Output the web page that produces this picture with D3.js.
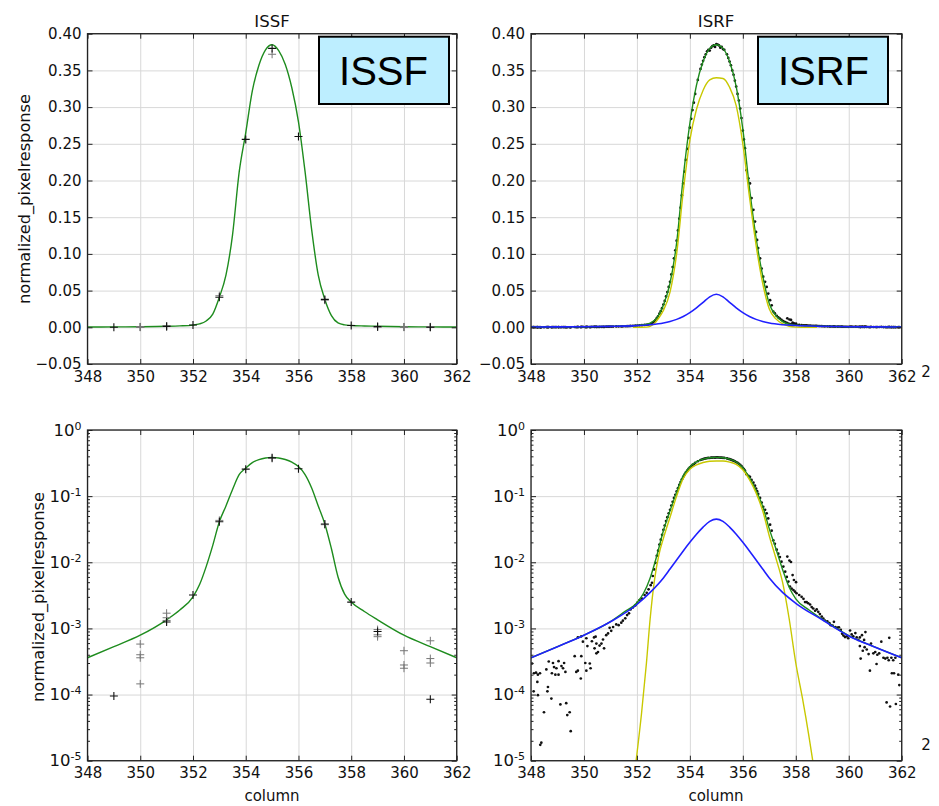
<!DOCTYPE html>
<html><head><meta charset="utf-8">
<script src="https://cdn.jsdelivr.net/npm/d3@7/dist/d3.min.js"></script>
<style>body{margin:0;background:#fff}svg{display:block}</style>
</head><body>
<svg id="c" width="939" height="806"></svg>
<script>
// ---------------- data ----------------
const xTicks = [348, 350, 352, 354, 356, 358, 360, 362];
const linTicks = [-0.05, 0.00, 0.05, 0.10, 0.15, 0.20, 0.25, 0.30, 0.35, 0.40];
const logTicks = [1e-5, 1e-4, 1e-3, 1e-2, 1e-1, 1];
const panelTitles = ["ISSF", "ISRF"];
const yLabel = "normalized_pixelresponse";
const xLabel = "column";

// ISSF samples (crosses)
const issfCols = [349, 351, 352, 353, 354, 355, 356, 357, 358, 359, 361];
const issfVals = [9.5e-5, 1.25e-3, 3.2e-3, 0.041, 0.256, 0.380, 0.260, 0.038, 2.5e-3, 9.0e-4, 8.5e-5];
const issfRepCols = [350, 350, 350, 350, 351, 351, 351, 353, 355, 357, 359, 359, 359, 360, 360, 360, 361, 361, 361];
const issfRepVals = [5.8e-4, 4.0e-4, 3.6e-4, 1.45e-4, 1.7e-3, 1.45e-3, 1.32e-3, 0.043, 0.372, 0.037, 9.6e-4, 8.0e-4, 7.5e-4, 4.6e-4, 2.8e-4, 2.5e-4, 6.5e-4, 3.5e-4, 3.0e-4];

// ISSF fitted curve (green)
const issfFitCols = [348, 349, 350, 351, 351.5, 352, 352.25, 352.5, 352.75, 353, 353.25, 353.5, 353.75, 354, 354.25, 354.5, 354.75, 355, 355.25, 355.5, 355.75, 356, 356.25, 356.5, 356.75, 357, 357.25, 357.5, 357.75, 358, 358.5, 359, 360, 361, 362];
const issfFitVals = [3.6e-4, 5.3e-4, 7.9e-4, 1.35e-3, 1.9e-3, 3.0e-3, 4.6e-3, 8.6e-3, 0.018, 0.041, 0.071, 0.126, 0.211, 0.265, 0.322, 0.357, 0.378, 0.385, 0.377, 0.358, 0.326, 0.280, 0.212, 0.133, 0.071, 0.038, 0.016, 6.0e-3, 3.3e-3, 2.5e-3, 1.8e-3, 1.35e-3, 7.9e-4, 5.3e-4, 3.6e-4];

// ISRF measured points (black dots)
const isrfCols = [
 348.04,348.11,348.19,348.26,348.34,348.10,348.24,348.26,348.49,348.35,348.39,348.58,348.67,348.83,348.87,348.79,348.92,349.04,349.04,348.96,
 348.62,348.64,348.77,349.11,349.33,349.37,349.46,349.50,349.21,349.25,349.30,349.15,349.65,349.71,349.77,349.88,349.90,349.77,349.90,349.96,
 350.09,350.13,350.22,350.05,350.09,350.25,350.30,350.38,350.44,350.47,350.40,350.47,350.53,350.59,350.66,350.76,350.72,350.84,350.91,350.97,
 351.03,351.10,351.22,351.31,351.41,351.47,351.56,351.63,351.70,351.76,351.85,351.94,352.02,352.10,352.19,352.29,352.37,352.44,352.52,352.57,
 352.60,352.65,352.70,352.75,352.80,352.85,352.90,352.95,353.00,353.05,353.10,353.15,353.20,353.25,353.30,353.35,353.40,353.45,353.50,353.55,
 353.60,353.65,353.70,353.75,353.80,353.85,353.90,353.95,354.00,354.05,354.10,354.15,354.20,354.30,354.40,354.45,354.50,354.55,354.60,354.65,
 354.70,354.75,354.80,354.85,354.90,354.95,355.00,355.05,355.10,355.15,355.20,355.25,355.30,355.40,355.45,355.50,355.55,355.60,355.65,355.70,
 355.75,355.80,355.85,355.90,355.95,356.00,356.04,356.08,356.14,356.21,356.27,356.33,356.40,356.46,356.50,356.54,356.58,356.65,356.71,356.77,
 356.84,356.90,356.96,357.03,357.09,357.15,357.21,357.28,357.34,357.40,357.46,357.53,357.60,357.66,357.72,357.78,357.84,357.91,357.97,
 357.68,357.76,357.82,357.88,357.93,358.01,
 358.03,358.13,358.22,358.29,358.35,358.41,358.47,358.54,358.60,358.66,358.73,358.79,358.85,358.91,358.98,359.04,359.10,359.19,359.27,359.32,
 359.39,359.44,359.49,359.57,359.63,359.70,359.75,359.80,359.86,359.92,359.98,360.05,360.11,360.17,360.25,360.30,360.36,360.42,360.42,360.50,
 360.58,360.63,360.45,360.53,360.60,360.68,360.75,360.80,360.84,360.93,361.00,361.05,361.08,361.15,361.23,361.31,361.38,361.46,361.53,361.51,
 361.61,361.68,361.76,361.63,361.71,361.87,361.91,361.43,361.56,361.78];
const isrfVals = [
 2.95e-4,2.1e-4,2.14e-4,2.0e-4,2.1e-4,1.12e-4,1.55e-4,9.8e-5,5.4e-5,1.74e-5,1.87e-5,2.4e-4,3.16e-4,3.0e-4,2.6e-4,2.1e-4,2.0e-4,2.0e-4,3.2e-4,2.5e-4,
 1.12e-4,1.3e-4,8.7e-5,7.1e-5,7.4e-5,4.9e-5,5.4e-5,2.8e-5,2.5e-4,3.0e-4,2.2e-4,2.7e-4,3.8e-4,2.2e-4,2.3e-4,1.75e-4,3.8e-4,7.3e-4,7.6e-4,6.3e-4,
 7.1e-4,5.4e-4,2.95e-4,3.0e-4,2.3e-4,2.5e-4,6.4e-4,7.3e-4,7.5e-4,5.9e-4,5.0e-4,4.2e-4,4.4e-4,5.5e-4,5.9e-4,5.0e-4,6.8e-4,7.9e-4,8.4e-4,1.02e-3,
 9.2e-4,1.05e-3,1.15e-3,1.12e-3,1.22e-3,1.31e-3,1.42e-3,1.59e-3,1.69e-3,1.94e-3,2.08e-3,2.23e-3,2.45e-3,2.68e-3,2.83e-3,3.2e-3,3.45e-3,3.9e-3,4.5e-3,4.9e-3,
 0.0062,0.0078,0.0098,0.0125,0.015,0.0185,0.022,0.026,0.031,0.036,0.042,0.048,0.055,0.062,0.072,0.082,0.094,0.105,0.118,0.132,
 0.148,0.163,0.180,0.196,0.212,0.228,0.243,0.258,0.272,0.284,0.296,0.306,0.318,0.337,0.352,0.358,0.363,0.368,0.372,0.376,
 0.378,0.377,0.381,0.383,0.384,0.382,0.386,0.385,0.384,0.381,0.382,0.379,0.378,0.372,0.367,0.362,0.357,0.350,0.344,0.336,
 0.328,0.318,0.309,0.298,0.285,0.268,0.256,0.244,0.214,0.203,0.196,0.176,0.160,0.144,0.130,0.119,0.108,0.094,0.080,0.069,
 0.062,0.055,0.046,0.037,0.030,0.0215,0.019,0.0155,0.0135,0.012,0.0102,0.0086,0.0072,0.006,0.0051,0.0043,0.0040,0.0038,0.0036,
 0.0122,0.0106,0.0101,0.0064,0.0054,0.0050,
 3.4e-3,3.2e-3,3.0e-3,2.8e-3,2.5e-3,2.5e-3,2.4e-3,2.3e-3,2.1e-3,2.0e-3,1.85e-3,1.94e-3,1.78e-3,1.65e-3,1.51e-3,1.41e-3,1.31e-3,1.28e-3,1.2e-3,1.12e-3,
 1.1e-3,1.26e-3,1.05e-3,1.03e-3,1.04e-3,9.5e-4,8.3e-4,7.8e-4,7.4e-4,7.6e-4,7.1e-4,9.3e-4,8.1e-4,7.6e-4,8.5e-4,7.3e-4,6.7e-4,5.4e-4,7.3e-4,7.9e-4,
 6.7e-4,8.8e-4,3.5e-4,4.6e-4,5.2e-4,4.8e-4,4.1e-4,2.3e-4,5.9e-4,4.2e-4,4.4e-4,2.9e-4,4.0e-4,4.2e-4,6.3e-4,3.6e-4,3.5e-4,3.6e-4,7.2e-4,3.3e-4,
 3.6e-4,3.3e-4,3.6e-4,2.1e-4,2.1e-4,2.0e-4,1.39e-4,7.6e-5,6.6e-5,7.2e-5];

// ISRF total fit (green)
const isrfFitCols = [348, 349, 350, 351, 351.5, 352, 352.25, 352.5, 352.75, 353, 353.25, 353.5, 353.75, 354, 354.25, 354.5, 354.75, 355, 355.25, 355.5, 355.75, 356, 356.25, 356.5, 356.75, 357, 357.25, 357.5, 357.75, 358, 358.5, 359, 360, 361, 362];
const isrfFitVals = [3.6e-4, 5.3e-4, 7.9e-4, 1.27e-3, 1.75e-3, 2.45e-3, 3.4e-3, 5.8e-3, 0.0125, 0.030, 0.060, 0.115, 0.205, 0.278, 0.330, 0.362, 0.380, 0.385, 0.380, 0.362, 0.328, 0.270, 0.190, 0.122, 0.070, 0.032, 0.016, 7.8e-3, 4.2e-3, 2.8e-3, 1.9e-3, 1.38e-3, 7.8e-4, 5.2e-4, 3.6e-4];

// ISRF core component (yellow)
const coreCols = [351.85, 351.97, 352.17, 352.36, 352.5, 352.67, 352.83, 353, 353.25, 353.5, 353.75, 354, 354.25, 354.5, 354.75, 355, 355.25, 355.5, 355.75, 356, 356.25, 356.5, 356.75, 357, 357.25, 357.5, 357.75, 358, 358.25, 358.5, 358.64, 358.8];
const coreVals = [4e-6, 1e-5, 5e-5, 3e-4, 1.4e-3, 5.6e-3, 0.013, 0.023, 0.048, 0.100, 0.185, 0.255, 0.297, 0.323, 0.337, 0.340, 0.339, 0.327, 0.302, 0.250, 0.178, 0.112, 0.060, 0.025, 0.0115, 5.0e-3, 1.4e-3, 3.0e-4, 8.9e-5, 2.3e-5, 1.0e-5, 4e-6];

// ISRF wing component (blue)
const wingCols = [348, 349, 350, 351, 352, 352.5, 353, 353.25, 353.5, 353.75, 354, 354.25, 354.5, 354.75, 355, 355.25, 355.5, 355.75, 356, 356.25, 356.5, 356.75, 357, 357.5, 358, 359, 360, 361, 362];
const wingVals = [3.6e-4, 5.3e-4, 7.9e-4, 1.26e-3, 2.3e-3, 3.5e-3, 5.8e-3, 7.9e-3, 0.0108, 0.0148, 0.0200, 0.0265, 0.0340, 0.0415, 0.045, 0.0415, 0.0340, 0.0265, 0.0200, 0.0148, 0.0108, 7.9e-3, 5.8e-3, 3.5e-3, 2.4e-3, 1.35e-3, 7.7e-4, 5.2e-4, 3.6e-4];

// ---------------- drawing ----------------
const svg = d3.select("#c");
const FONT = "DejaVu Sans, sans-serif";
const zip = (a, b) => a.map((v, i) => [v, b[i]]);

const panels = [
  {id: "a", x0: 87.5, x1: 456.7, y0: 33.7, y1: 364, log: false, kind: "issf"},
  {id: "b", x0: 531, x1: 901.7, y0: 33.7, y1: 364, log: false, kind: "isrf"},
  {id: "c", x0: 87.5, x1: 456.7, y0: 430, y1: 760.7, log: true, kind: "issf"},
  {id: "d", x0: 531, x1: 901.7, y0: 430, y1: 760.7, log: true, kind: "isrf"}
];

const defs = svg.append("defs");

panels.forEach(p => {
  const g = svg.append("g");
  const x = d3.scaleLinear().domain([348, 362]).range([p.x0, p.x1]);
  const y = p.log ? d3.scaleLog().domain([1e-5, 1]).range([p.y1, p.y0])
                  : d3.scaleLinear().domain([-0.05, 0.40]).range([p.y1, p.y0]);
  const yT = p.log ? logTicks : linTicks;
  const w = p.x1 - p.x0, h = p.y1 - p.y0;

  defs.append("clipPath").attr("id", "clip" + p.id)
    .append("rect").attr("x", p.x0).attr("y", p.y0).attr("width", w).attr("height", h);

  // grid
  const gx = g.append("g").attr("transform", `translate(0,${p.y1})`)
    .call(d3.axisBottom(x).tickValues(xTicks).tickSize(-h).tickFormat(""));
  const gy = g.append("g").attr("transform", `translate(${p.x0},0)`)
    .call(d3.axisLeft(y).tickValues(yT).tickSize(-w).tickFormat(""));
  [gx, gy].forEach(s => {
    s.select(".domain").remove();
    s.selectAll("line").attr("stroke", "#d8d8d8").attr("stroke-width", 1);
  });

  const plot = g.append("g").attr("clip-path", `url(#clip${p.id})`);
  const line = d3.line().x(d => x(d[0])).y(d => y(d[1])).curve(d3.curveMonotoneX);

  if (p.kind === "issf") {
    plot.append("path").datum(zip(issfFitCols, issfFitVals))
      .attr("d", line).attr("fill", "none").attr("stroke", "#1e8c1e").attr("stroke-width", 1.4);
    const cross = "M-4,0H4M0,-4V4";
    plot.selectAll(".rep").data(zip(issfRepCols, issfRepVals)).join("path")
      .attr("d", cross).attr("transform", d => `translate(${x(d[0])},${y(d[1])})`)
      .attr("stroke", "#777").attr("stroke-width", 1).attr("fill", "none");
    plot.selectAll(".pri").data(zip(issfCols, issfVals)).join("path")
      .attr("d", cross).attr("transform", d => `translate(${x(d[0])},${y(d[1])})`)
      .attr("stroke", "#111").attr("stroke-width", 1.1).attr("fill", "none");
  } else {
    plot.selectAll("circle").data(zip(isrfCols, isrfVals)).join("circle")
      .attr("cx", d => x(d[0])).attr("cy", d => y(d[1])).attr("r", 1.35).attr("fill", "#111");
    plot.append("path").datum(zip(isrfFitCols, isrfFitVals))
      .attr("d", line).attr("fill", "none").attr("stroke", "#1e8c1e").attr("stroke-width", 1.4);
    plot.append("path").datum(zip(coreCols, coreVals))
      .attr("d", line).attr("fill", "none").attr("stroke", "#c8c800").attr("stroke-width", 1.4);
    plot.append("path").datum(zip(wingCols, wingVals))
      .attr("d", line).attr("fill", "none").attr("stroke", "#2020ff").attr("stroke-width", 1.6);
  }

  // axes (ticks inside)
  const ax = g.append("g").attr("transform", `translate(0,${p.y1})`)
    .call(d3.axisBottom(x).tickValues(xTicks).tickSizeInner(-5).tickSizeOuter(0).tickPadding(7).tickFormat(d3.format("d")));
  const axT = g.append("g").attr("transform", `translate(0,${p.y0})`)
    .call(d3.axisTop(x).tickValues(xTicks).tickSizeInner(-5).tickSizeOuter(0).tickFormat(""));
  const ay = g.append("g").attr("transform", `translate(${p.x0},0)`)
    .call(d3.axisLeft(y).tickValues(yT).tickSizeInner(-5).tickSizeOuter(0).tickPadding(6)
      .tickFormat(p.log ? (() => "10") : d3.format(".2f")));
  const ayR = g.append("g").attr("transform", `translate(${p.x1},0)`)
    .call(d3.axisRight(y).tickValues(yT).tickSizeInner(-5).tickSizeOuter(0).tickFormat(""));
  const all = [ax, axT, ay, ayR];
  if (p.log) {
    const minor = y.ticks().filter(v => !logTicks.some(t => Math.abs(t - v) / t < 1e-6));
    all.push(g.append("g").attr("transform", `translate(${p.x0},0)`)
      .call(d3.axisLeft(y).tickValues(minor).tickSizeInner(-2.5).tickSizeOuter(0).tickFormat("")));
    all.push(g.append("g").attr("transform", `translate(${p.x1},0)`)
      .call(d3.axisRight(y).tickValues(minor).tickSizeInner(-2.5).tickSizeOuter(0).tickFormat("")));
    ay.selectAll(".tick text").each(function(d) {
      d3.select(this).append("tspan").attr("dy", "-0.55em").attr("font-size", "11px")
        .text(String(Math.round(Math.log10(d))));
    });
    ay.selectAll(".tick text").attr("font-size", 16.5);
  }
  all.forEach(s => {
    s.select(".domain").remove();
    s.selectAll("line").attr("stroke", "#222").attr("stroke-width", 1);
  });
  g.selectAll(".tick text").attr("fill", "#111").attr("font-family", FONT);
  ax.selectAll(".tick text").attr("font-size", 15);
  if (!p.log) ay.selectAll(".tick text").attr("font-size", 15);

  // frame
  g.append("rect").attr("x", p.x0).attr("y", p.y0).attr("width", w).attr("height", h)
    .attr("fill", "none").attr("stroke", "#222").attr("stroke-width", 1.3);
});

// titles
svg.append("text").attr("x", 272).attr("y", 26.5).attr("text-anchor", "middle")
  .attr("font-family", FONT).attr("font-size", 16.5).attr("fill", "#111").text(panelTitles[0]);
svg.append("text").attr("x", 716).attr("y", 26.5).attr("text-anchor", "middle")
  .attr("font-family", FONT).attr("font-size", 16.5).attr("fill", "#111").text(panelTitles[1]);

// y labels
[[24, 199], [38, 597]].forEach(([cx, cy]) => {
  svg.append("text").attr("transform", `translate(${cx},${cy}) rotate(-90)`)
    .attr("text-anchor", "middle").attr("dy", "0.35em")
    .attr("font-family", FONT).attr("font-size", 16.2).attr("fill", "#111").text(yLabel);
});
// x labels
[272, 716].forEach(cx => {
  svg.append("text").attr("x", cx).attr("y", 801).attr("text-anchor", "middle")
    .attr("font-family", FONT).attr("font-size", 15).attr("fill", "#111").text(xLabel);
});

// side "2" marks
[372, 745].forEach(cy => {
  svg.append("text").attr("x", 926).attr("y", cy).attr("dy", "0.35em").attr("text-anchor", "middle")
    .attr("font-family", FONT).attr("font-size", 15).attr("fill", "#111").text("2");
});

// label boxes
[[319, 383.5, "ISSF"], [758, 823.5, "ISRF"]].forEach(([bx, cx, label]) => {
  svg.append("rect").attr("x", bx).attr("y", 36.7).attr("width", 130).attr("height", 67.3)
    .attr("fill", "#bdeeff").attr("stroke", "#000").attr("stroke-width", 2);
  svg.append("text").attr("x", cx).attr("y", 70.3).attr("dy", "0.36em").attr("text-anchor", "middle")
    .attr("font-family", "Liberation Sans, Arial, sans-serif").attr("font-size", 40).attr("fill", "#000").text(label);
});
</script>
</body></html>
